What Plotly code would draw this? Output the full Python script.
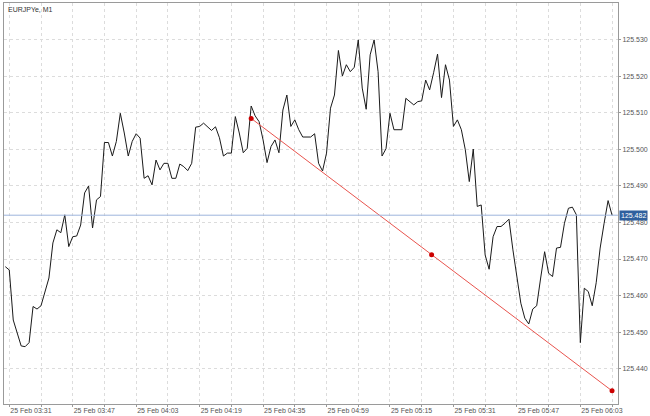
import plotly.graph_objects as go

# Close prices (bar index 0..153)
close = [
    125.4679, 125.4670, 125.4533, 125.4498, 125.4462, 125.4460, 125.4471, 125.4570, 125.4563, 125.4572,
    125.4607, 125.4648, 125.4744, 125.4780, 125.4772, 125.4821, 125.4734, 125.4761, 125.4763, 125.4793,
    125.4881, 125.4900, 125.4785, 125.4862, 125.4871, 125.5019, 125.5019, 125.4982, 125.5022, 125.5099,
    125.5045, 125.4982, 125.5022, 125.5043, 125.5031, 125.4921, 125.4928, 125.4903, 125.4971, 125.4944,
    125.4962, 125.4962, 125.4921, 125.4921, 125.4960, 125.4953, 125.4942, 125.4962, 125.5061, 125.5063,
    125.5072, 125.5063, 125.5052, 125.5062, 125.5032, 125.4982, 125.4990, 125.4990, 125.5090, 125.5045,
    125.4991, 125.5003, 125.5119, 125.5092, 125.5076, 125.5026, 125.4964, 125.5008, 125.5026, 125.4991,
    125.5108, 125.5149, 125.5063, 125.5081, 125.5054, 125.5034, 125.5034, 125.5034, 125.5043, 125.4962,
    125.4941, 125.4990, 125.5113, 125.5149, 125.5271, 125.5201, 125.5232, 125.5213, 125.5225, 125.5300,
    125.5168, 125.5110, 125.5259, 125.5300, 125.5213, 125.4982, 125.5002, 125.5099, 125.5054, 125.5054,
    125.5054, 125.5140, 125.5131, 125.5122, 125.5131, 125.5133, 125.5190, 125.5163, 125.5210, 125.5261,
    125.5142, 125.5232, 125.5190, 125.5063, 125.5081, 125.5054, 125.4999, 125.4912, 125.5001, 125.4844,
    125.4848, 125.4711, 125.4672, 125.4761, 125.4789, 125.4789, 125.4798, 125.4809, 125.4725, 125.4648,
    125.4579, 125.4538, 125.4522, 125.4563, 125.4572, 125.4648, 125.4720, 125.4661, 125.4652, 125.4730,
    125.4732, 125.4798, 125.4839, 125.4842, 125.4821, 125.4471, 125.4620, 125.4611, 125.4572, 125.4635,
    125.4730, 125.4798, 125.4860, 125.4820,
]
bars = list(range(len(close)))

# Time labels (every 16 bars, starting at bar 1); grid every 8 bars
time_labels = ["25 Feb 03:31", "25 Feb 03:47", "25 Feb 04:03", "25 Feb 04:19", "25 Feb 04:35",
               "25 Feb 04:59", "25 Feb 05:15", "25 Feb 05:31", "25 Feb 05:47", "25 Feb 06:03"]
label_bars = [1, 17, 33, 49, 65, 81, 97, 113, 129, 145]

price_ticks = [125.440, 125.450, 125.460, 125.470, 125.480, 125.490, 125.500, 125.510, 125.520, 125.530]

current_price = 125.482

# Trendline anchor points (bar index, price)
trend_x = [62, 153]
trend_y = [125.5085, 125.4339]

tickvals = []
ticktext = []
for k, b in enumerate(label_bars):
    tickvals.append(b)
    ticktext.append(time_labels[k])
    tickvals.append(b + 8)
    ticktext.append("")

mid_x = (trend_x[0] + trend_x[1]) / 2
mid_y = (trend_y[0] + trend_y[1]) / 2

FONT = "Liberation Sans, Arial, sans-serif"

fig = go.Figure()
fig.add_trace(go.Scatter(x=bars, y=close, mode="lines",
                         line=dict(color="#1a1a1a", width=1), hoverinfo="skip"))
fig.add_trace(go.Scatter(x=trend_x, y=trend_y, mode="lines",
                         line=dict(color="#e8544e", width=1), hoverinfo="skip"))
fig.add_trace(go.Scatter(x=[trend_x[0], mid_x, trend_x[1]], y=[trend_y[0], mid_y, trend_y[1]],
                         mode="markers", marker=dict(color="#cc0000", size=5), hoverinfo="skip"))

fig.add_shape(type="line", xref="paper", x0=0, x1=1, yref="y", y0=current_price, y1=current_price,
              line=dict(color="#9db4dc", width=1))

fig.add_annotation(xref="paper", x=1, yref="y", y=current_price, text=f"{current_price:.3f}",
                   showarrow=False, xanchor="left", yanchor="middle", xshift=1,
                   bgcolor="#2f5f9e", borderpad=1,
                   font=dict(family=FONT, size=7, color="white"))

fig.add_annotation(xref="paper", x=0, yref="paper", y=1, text="EURJPYe, M1",
                   showarrow=False, xanchor="left", yanchor="top", xshift=2, yshift=-1,
                   font=dict(family=FONT, size=7, color="#333333"))

fig.update_layout(
    width=650, height=416,
    margin=dict(l=4, r=32, t=3, b=12),
    paper_bgcolor="white", plot_bgcolor="white",
    showlegend=False,
    font=dict(family=FONT, size=7, color="#555555"),
)
fig.update_xaxes(range=[-0.33, 154.5], tickvals=tickvals, ticktext=ticktext,
                 showgrid=True, gridcolor="#dcdcdc", griddash="3px,3px", gridwidth=1,
                 showline=True, linecolor="#9a9a9a", linewidth=1, mirror=True,
                 ticks="outside", ticklen=2, tickcolor="#9a9a9a",
                 ticklabelposition="outside right", zeroline=False, automargin=False,
                 tickfont=dict(size=7, color="#555555"), ticklabelstandoff=0)
fig.update_yaxes(range=[125.4303, 125.5401], side="right", tickvals=price_ticks,
                 tickformat=".3f",
                 showgrid=True, gridcolor="#dcdcdc", griddash="3px,3px", gridwidth=1,
                 showline=True, linecolor="#9a9a9a", linewidth=1, mirror=True,
                 ticks="outside", ticklen=2, tickcolor="#9a9a9a", zeroline=False, automargin=False,
                 tickfont=dict(size=7, color="#555555"))

fig.write_html("out.html", config={"displayModeBar": False},
               post_script="document.body.style.margin='0';document.body.style.overflow='hidden';")
